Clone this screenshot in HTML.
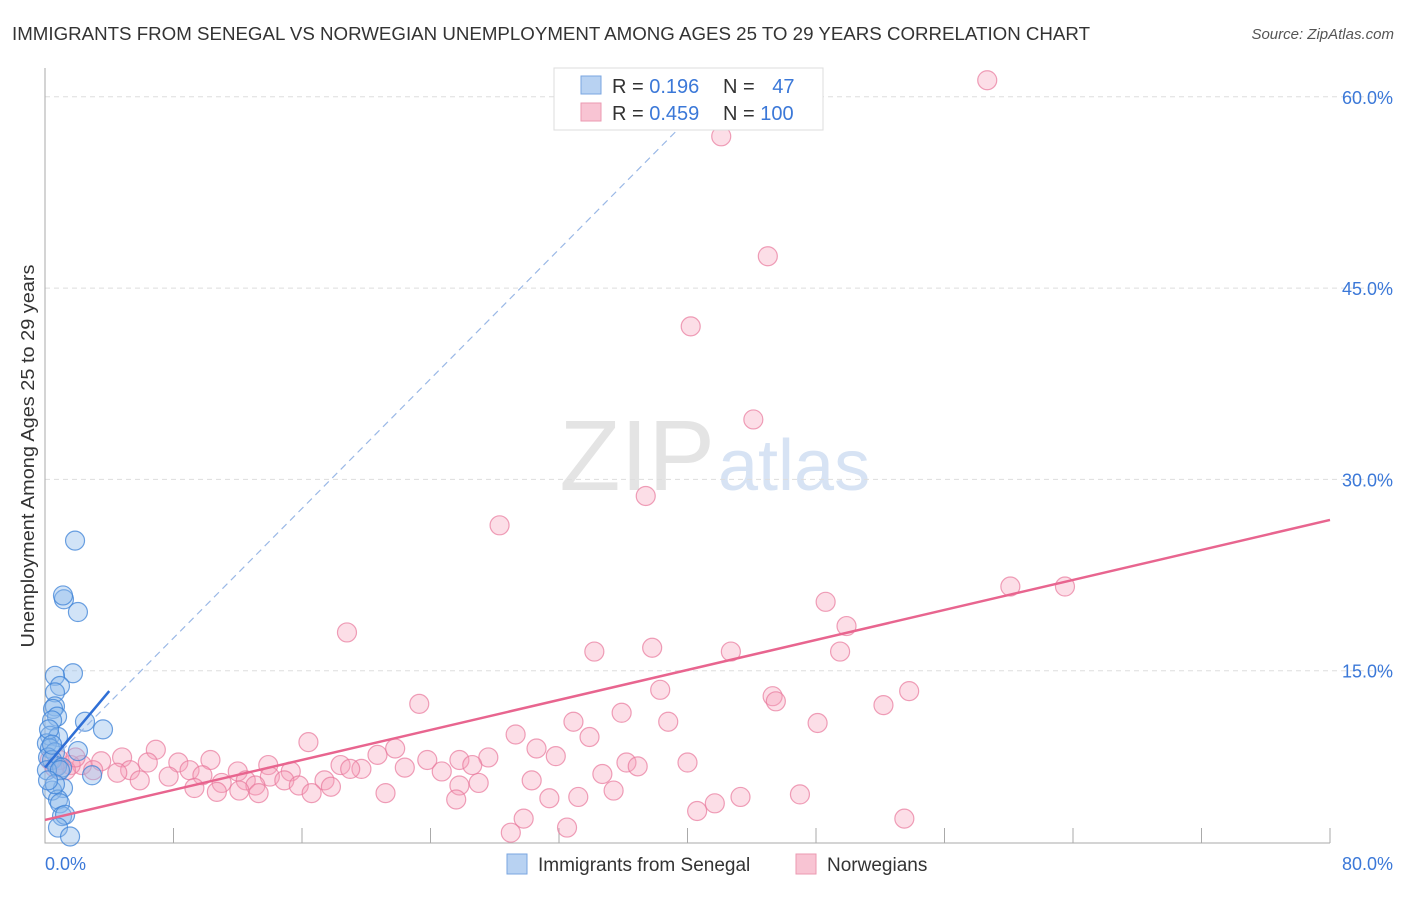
<!DOCTYPE html>
<html><head><meta charset="utf-8"><style>
body{margin:0;background:#fff;font-family:"Liberation Sans",sans-serif}
svg text{font-family:"Liberation Sans",sans-serif}
</style></head><body>
<svg id="c" width="1406" height="892">
<text x="12" y="40" font-size="18" fill="#333" textLength="1078" lengthAdjust="spacingAndGlyphs">IMMIGRANTS FROM SENEGAL VS NORWEGIAN UNEMPLOYMENT AMONG AGES 25 TO 29 YEARS CORRELATION CHART</text>
<text x="1394" y="39" font-size="15" fill="#555" text-anchor="end" font-style="italic">Source: ZipAtlas.com</text>
<text x="715" y="490" font-size="100" fill="#e4e4e4" text-anchor="end" font-family="Liberation Serif">ZIP</text>
<text x="718" y="490" font-size="72" fill="#d7e3f4">atlas</text>
<text transform="translate(34,456) rotate(-90)" font-size="18" fill="#333" text-anchor="middle" textLength="383" lengthAdjust="spacingAndGlyphs">Unemployment Among Ages 25 to 29 years</text>
<g id="grid"></g><g id="pts"></g><g id="lines"></g>
<g>
<rect x="554" y="68" width="269" height="62" fill="#fff" stroke="#ddd"/>
<rect x="581" y="76" width="20" height="18" fill="#b8d2f2" stroke="#7aa6e0"/>
<rect x="581" y="103" width="20" height="18" fill="#f8c4d3" stroke="#eb9ab2"/>
<text x="612" y="93" font-size="20" fill="#333">R = <tspan fill="#3b78d8">0.196</tspan></text>
<text x="723" y="93" font-size="20" fill="#333">N = <tspan fill="#3b78d8" dx="12">47</tspan></text>
<text x="612" y="120" font-size="20" fill="#333">R = <tspan fill="#3b78d8">0.459</tspan></text>
<text x="723" y="120" font-size="20" fill="#333">N = <tspan fill="#3b78d8">100</tspan></text>
</g>
<g>
<rect x="507" y="854" width="20" height="20" fill="#b8d2f2" stroke="#7aa6e0"/>
<text x="538" y="871" font-size="19" fill="#333">Immigrants from Senegal</text>
<rect x="796" y="854" width="20" height="20" fill="#f8c4d3" stroke="#eb9ab2"/>
<text x="827" y="871" font-size="19" fill="#333">Norwegians</text>
</g>
</svg>
<script>
const blueX=[1.87,1.18,1.12,2.05,1.74,0.62,0.93,0.62,0.62,0.5,0.75,0.44,2.49,3.61,0.31,0.81,0.12,0.31,2.05,0.62,0.19,0.44,0.75,1.06,2.93,0.12,1.12,0.44,0.81,0.93,1.06,1.25,0.81,1.56,0.25,0.44,0.93,0.62,0.19];
const blueY=[25.2,20.6,20.9,19.6,14.8,14.6,13.8,13.3,12.2,12.0,11.4,11.1,11.0,10.4,9.9,9.8,9.3,8.9,8.7,8.6,8.2,8.0,7.5,7.4,6.8,7.2,5.8,5.6,4.9,4.6,3.6,3.7,2.7,2.0,10.4,9.2,7.2,6.1,6.4];
const pinkX=[58.66,42.1,45.0,40.2,44.1,37.4,28.3,60.1,63.5,48.6,49.9,18.8,34.2,37.8,42.7,49.5,38.3,53.8,45.3,45.5,52.2,23.3,35.9,32.9,38.8,48.1,29.3,16.4,33.9,30.6,6.9,4.8,10.3,20.7,21.8,23.8,22.4,27.6,31.8,25.8,6.4,8.3,13.9,19.7,3.5,2.3,3.0,5.3,9.0,12.0,15.3,18.4,19.0,24.7,26.6,36.2,36.9,40.0,34.7,17.4,14.0,12.5,9.8,4.5,5.9,7.7,14.9,11.0,13.1,15.8,30.3,27.0,25.8,9.3,10.7,12.1,13.3,16.6,17.8,21.2,31.4,33.2,35.4,43.3,47.0,25.6,41.7,40.6,29.8,29.0,32.5,53.5,1.6,0.9,1.3,1.9,0.6,0.3];
const pinkY=[61.3,56.9,47.5,42.0,34.7,28.7,26.4,21.6,21.6,20.4,18.5,18.0,16.5,16.8,16.5,16.5,13.5,13.4,13.0,12.6,12.3,12.4,11.7,11.0,11.0,10.9,10.0,9.4,9.8,8.9,8.8,8.2,8.0,8.4,8.9,8.0,7.4,8.2,8.3,8.0,7.8,7.8,7.6,7.3,7.9,7.6,7.2,7.2,7.2,7.1,7.1,7.6,7.3,7.1,7.6,7.8,7.5,7.8,6.9,6.4,6.7,6.4,6.8,7.0,6.4,6.7,6.4,6.2,6.0,6.0,6.4,6.2,6.0,5.8,5.5,5.6,5.4,5.4,5.9,5.4,5.0,5.1,5.6,5.1,5.3,4.9,4.6,4.0,3.4,2.3,2.7,3.4,7.6,8.0,7.2,8.2,7.4,8.0];
const yTicks=[15,30,45,60];
const xTickVals=[8,16,24,32,40,48,56,64,72,80];
const blueTrend=[7.4,1.5];
const blueExtSlope=1.27;
const pinkTrend=[3.3,0.294];
const NS='http://www.w3.org/2000/svg';
const sx=v=>45+v*1285/80, sy=v=>862-v*191.3/15;
function mk(t,a,p){const e=document.createElementNS(NS,t);for(const k in a)e.setAttribute(k,a[k]);p.appendChild(e);return e;}
const g=document.getElementById('grid');
yTicks.forEach(t=>{
 const l=mk('line',{x1:45,x2:1393,y1:sy(t),y2:sy(t),stroke:'#ddd','stroke-dasharray':'5,4'},g);
 
 
 const tx=mk('text',{x:1393,y:sy(t)+7,'font-size':18,fill:'#3b78d8','text-anchor':'end'},g);
 tx.textContent=t.toFixed(1)+'%';
 
 
});
const ax=mk('path',{d:'M45,68V843H1330',stroke:'#aaa',fill:'none'},g);


xTickVals.forEach(v=>{
 const l=mk('line',{x1:sx(v),x2:sx(v),y1:828,y2:843,stroke:'#aaa'},g);
 
 
});
[[0,'0.0%','start',45],[80,'80.0%','end',1393]].forEach(a=>{
 const t=mk('text',{x:a[3],y:870,'font-size':18,fill:'#3b78d8','text-anchor':a[2]},g);
 t.textContent=a[1];
 
 
});
const P=document.getElementById('pts');
pinkX.forEach((x,i)=>{
 const c=mk('circle',{cx:sx(x),cy:sy(pinkY[i]),r:9.5,fill:'rgba(245,160,185,0.35)',stroke:'rgba(232,120,155,0.7)','stroke-width':1.2},P);
 
 
});
blueX.forEach((x,i)=>{
 const c=mk('circle',{cx:sx(x),cy:sy(blueY[i]),r:9.5,fill:'rgba(140,185,235,0.4)',stroke:'rgba(60,130,215,0.75)','stroke-width':1.2},P);
 
 
});
const L=document.getElementById('lines');
const bEnd=(60-blueTrend[0])/blueExtSlope;
const bd=mk('line',{x1:sx(0),y1:sy(blueTrend[0]),x2:sx(bEnd),y2:sy(60),stroke:'#9ab8e6','stroke-width':1.2,'stroke-dasharray':'7,5'},L);


const bs=mk('line',{x1:sx(0),y1:sy(blueTrend[0]),x2:sx(4),y2:sy(blueTrend[0]+4*blueTrend[1]),stroke:'#2f6fd6','stroke-width':2.5},L);


const pl=mk('line',{x1:sx(0),y1:sy(pinkTrend[0]),x2:sx(80),y2:sy(pinkTrend[0]+80*pinkTrend[1]),stroke:'#e8658f','stroke-width':2.5},L);


</script>
</body></html>
